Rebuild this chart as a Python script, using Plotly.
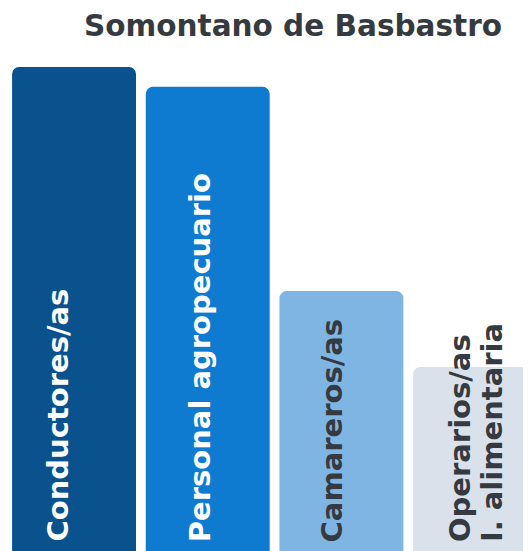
import plotly.graph_objects as go

categories = ["Conductores/as", "Personal agropecuario", "Camareros/as", "Operarios/as<br>I. alimentaria"]
values = [100, 95.9, 53.7, 38.0]
colors = ["#0a528e", "#0e7bd0", "#7fb5e3", "#d9e1ea"]
text_colors = ["#ffffff", "#ffffff", "#343a40", "#343a40"]
title_text = "Somontano de Basbastro"

# label placement (pixels) relative to bar centre
label_xshift = [-17, -8, -9, -15]
line_gap = 31.5

FONT = "DejaVu Sans"

x_idx = list(range(len(categories)))

fig = go.Figure(
    go.Bar(
        x=x_idx,
        y=values,
        marker=dict(color=colors, line=dict(width=0)),
        width=0.927,
        hoverinfo="skip",
    )
)

for i, lab in enumerate(categories):
    for j, line in enumerate(lab.split("<br>")):
        fig.add_annotation(
            x=x_idx[i],
            y=0,
            xref="x",
            yref="y",
            text=line,
            showarrow=False,
            textangle=-90,
            xanchor="center",
            yanchor="bottom",
            xshift=label_xshift[i] + j * line_gap,
            yshift=7,
            font=dict(family=FONT, size=29, color=text_colors[i], weight="bold"),
        )

fig.update_layout(
    width=531,
    height=543,
    margin=dict(l=0, r=0, t=52, b=0),
    paper_bgcolor="white",
    plot_bgcolor="white",
    barcornerradius=7,
    showlegend=False,
    title=dict(
        text=title_text,
        x=285 / 531,
        xanchor="center",
        y=1 - 18 / 543,
        yanchor="middle",
        font=dict(family=FONT, size=29.5, color="#343a40", weight="bold"),
    ),
    xaxis=dict(range=[-0.494, 3.478], visible=False, fixedrange=True),
    yaxis=dict(range=[0, 101.45], visible=False, fixedrange=True),
)

fig.write_html("out.html")
